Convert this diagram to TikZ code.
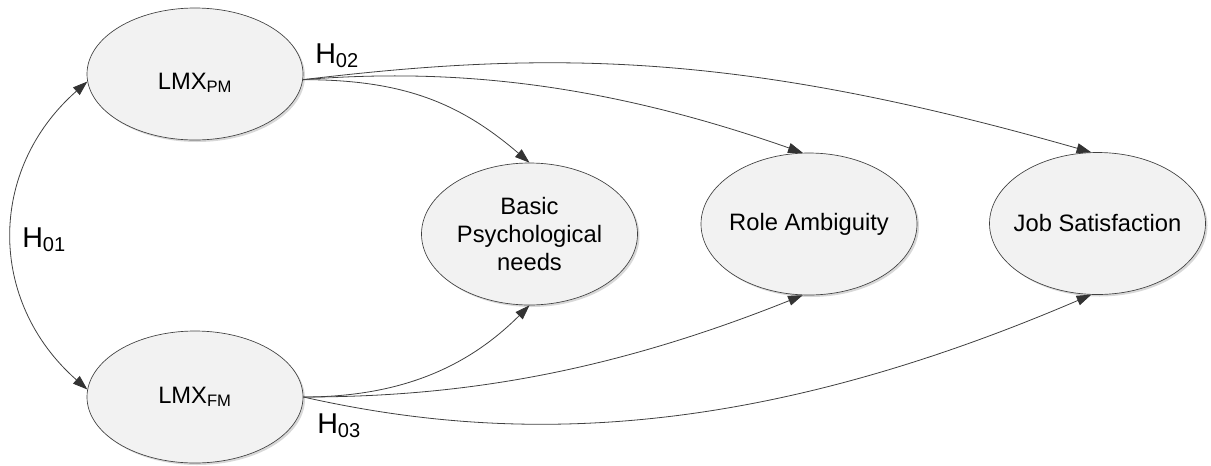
\documentclass[tikz,border=0pt]{standalone}
\usepackage{fontspec}
\setmainfont{Liberation Sans}
\usetikzlibrary{arrows.meta,shapes.geometric,shadows}

\definecolor{boxfill}{RGB}{242,242,242}
\definecolor{linecol}{RGB}{64,64,64}
\definecolor{tipcol}{RGB}{51,51,51}

\begin{document}
\begin{tikzpicture}[x=0.75pt,y=-0.75pt,
  construct/.style={ellipse, draw=linecol, line width=0.5pt, fill=boxfill,
    inner xsep=-30pt, inner ysep=0pt, align=center,
    font=\fontsize{17.8}{21.2}\selectfont,
    drop shadow={shadow xshift=1.5pt, shadow yshift=-1.5pt, fill=black!30, opacity=0.5}},
  lmx/.style={construct, minimum width=162pt, minimum height=99pt},
  outcome/.style={construct, minimum width=162pt, minimum height=106.5pt},
  link/.style={draw=linecol, line width=0.6pt,
    -{Triangle[length=11pt,width=7.5pt,fill=tipcol,color=tipcol]}},
  biglink/.style={draw=linecol, line width=0.6pt,
    {Triangle[length=11pt,width=7.5pt,fill=tipcol,color=tipcol]}-{Triangle[length=11pt,width=7.5pt,fill=tipcol,color=tipcol]}},
  hyp/.style={font=\fontsize{21.5}{24}\selectfont, anchor=base west, inner sep=0pt}
]
\useasboundingbox (0,0) rectangle (1211,465);

% constructs
\node[lmx] (pm) at (195,74) {\raisebox{-11.5pt}[0pt][0pt]{LMX\textsubscript{PM}}};
\node[lmx] (fm) at (195,397) {LMX\textsubscript{FM}};
\node[outcome] (bpn) at (529.5,234) {Basic\\Psychological\\needs};
\node[outcome] (role) at (809,224) {Role Ambiguity};
\node[outcome] (job) at (1097.5,223.5) {Job Satisfaction};

% correlation between the two exchange relations
\draw[biglink] (pm.184) .. controls +(-100,88) and +(-100,-88) .. (fm.176);

% paths from LMX_PM
\draw[link] (pm.-3) .. controls +(250,-30) and +(-350,-100) .. (job.95);
\draw[link] (pm.-3) .. controls +(150,-12) and +(-200,-70) .. (role.95);
\draw[link] (pm.-3) .. controls +(100,0) and +(-70,-60) .. (bpn.north);

% paths from LMX_FM
\draw[link] (fm.east) .. controls +(100,0) and +(-60,60) .. (bpn.south);
\draw[link] (fm.east) .. controls +(150,0) and +(-200,80) .. (role.-95);
\draw[link] (fm.east) .. controls +(200,45) and +(-350,150) .. (job.-95);

% hypothesis labels
\node[hyp] (h01) at (22,247) {H\textsubscript{01}};
\node[hyp] (h02) at (315,63) {H\textsubscript{02}};
\node[hyp] (h03) at (317,433) {H\textsubscript{03}};
\end{tikzpicture}
\end{document}
